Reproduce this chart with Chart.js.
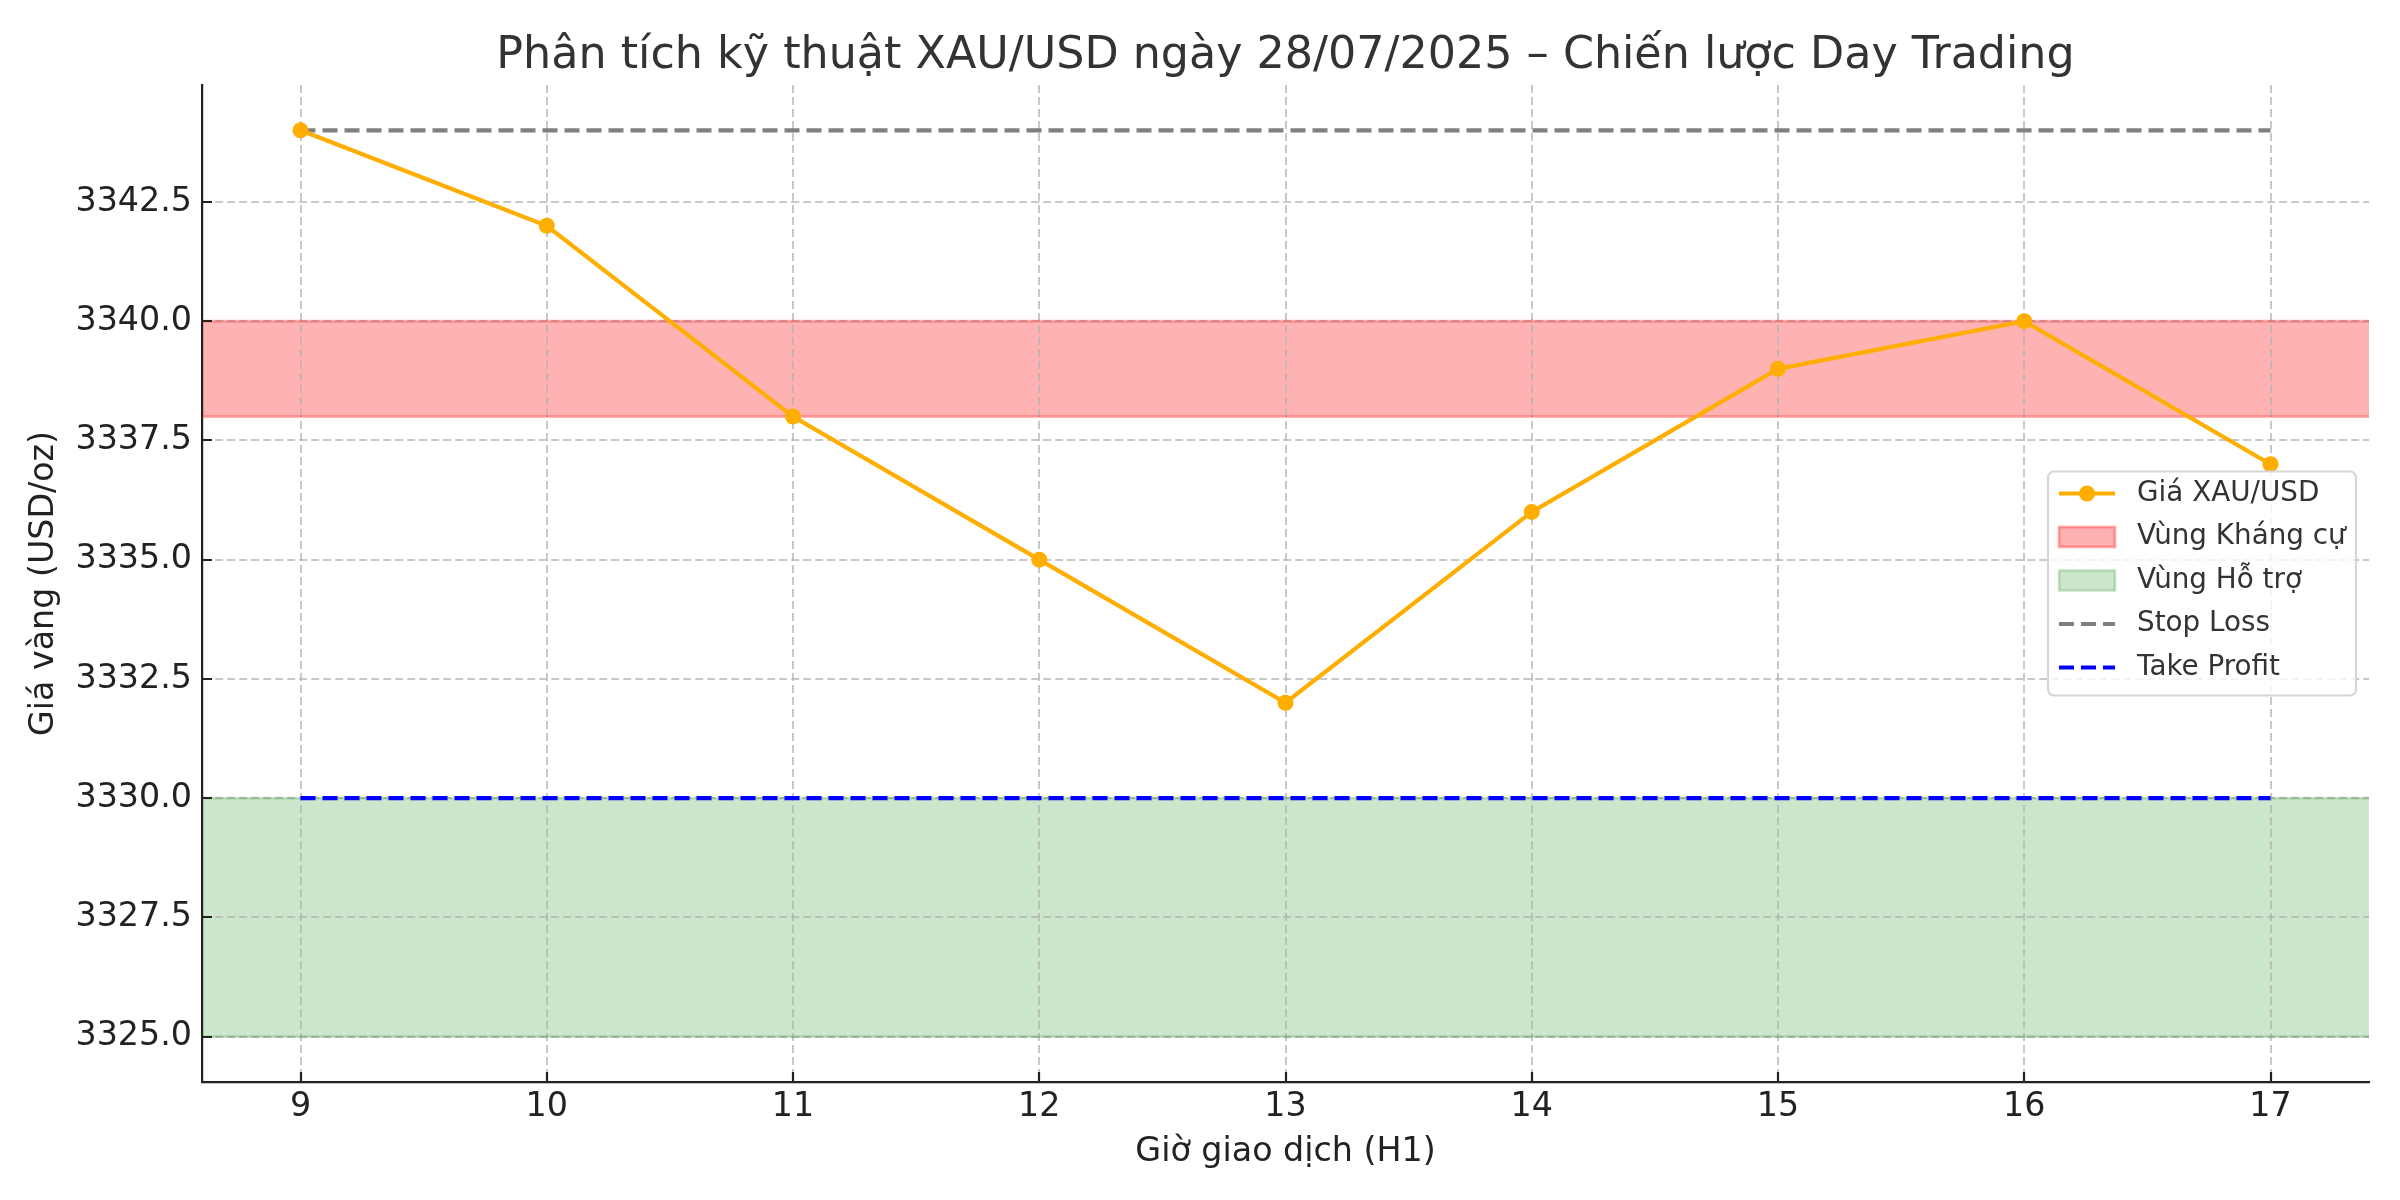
<!DOCTYPE html>
<html>
<head>
<meta charset="utf-8">
<script src="https://cdn.jsdelivr.net/npm/chart.js@4"></script>
<style>
  html, body { margin: 0; padding: 0; background: #fff; }
  canvas { display: block; }
</style>
</head>
<body>
<canvas id="chart" width="2400" height="1200"></canvas>
<script>
// --- Données ---
const hours = [9, 10, 11, 12, 13, 14, 15, 16, 17];
const prices = [3344, 3342, 3338, 3335, 3332, 3336, 3339, 3340, 3337];
const resistanceZone = [3338, 3340];
const supportZone = [3325, 3330];
const stopLoss = 3344;
const takeProfit = 3330;
const xRange = [8.6, 17.4];
const yRange = [3324.05, 3344.95];
const xTicks = [9, 10, 11, 12, 13, 14, 15, 16, 17];
const yTicks = [3325, 3327.5, 3330, 3332.5, 3335, 3337.5, 3340, 3342.5];

const titleText = 'Phân tích kỹ thuật XAU/USD ngày 28/07/2025 – Chiến lược Day Trading';
const xTitle = 'Giờ giao dịch (H1)';
const yTitle = 'Giá vàng (USD/oz)';
const FONT = '"DejaVu Sans", sans-serif';

const ORANGE = '#FFAE00';
const RED_FACE = 'rgba(255,0,0,0.3)';
const GREEN_FACE = 'rgba(0,128,0,0.2)';

function hline(y, x0, x1) {
  return [{ x: x0, y: y }, { x: x1, y: y }];
}

// --- Titre, graduations vers l'intérieur et légende (style matplotlib) ---
const mplPlugin = {
  id: 'mplExtras',
  afterDatasetsDraw(chart) {
    const ctx = chart.ctx;
    const area = chart.chartArea;
    const xs = chart.scales.x, ys = chart.scales.y;

    // petites graduations tournées vers l'intérieur
    ctx.save();
    ctx.strokeStyle = '#222';
    ctx.lineWidth = 2.2;
    ctx.beginPath();
    xTicks.forEach(v => {
      const px = Math.round(xs.getPixelForValue(v));
      ctx.moveTo(px, area.bottom);
      ctx.lineTo(px, area.bottom - 10);
    });
    yTicks.forEach(v => {
      const py = Math.round(ys.getPixelForValue(v));
      ctx.moveTo(area.left, py);
      ctx.lineTo(area.left + 10, py);
    });
    ctx.stroke();
    ctx.restore();

    // légende "center right"
    const items = [
      { type: 'line', label: 'Giá XAU/USD', color: ORANGE, marker: true },
      { type: 'patch', label: 'Vùng Kháng cự', face: RED_FACE, edge: 'rgba(255,0,0,0.3)' },
      { type: 'patch', label: 'Vùng Hỗ trợ', face: GREEN_FACE, edge: 'rgba(0,128,0,0.2)' },
      { type: 'line', label: 'Stop Loss', color: 'gray', dash: [15, 7] },
      { type: 'line', label: 'Take Profit', color: 'blue', dash: [15, 7] }
    ];
    const w = 308, h = 224;
    const x0 = area.right - 13 - w;
    const y0 = (area.top + area.bottom) / 2 - h / 2;
    ctx.save();
    ctx.beginPath();
    ctx.roundRect(x0, y0, w, h, 6);
    ctx.fillStyle = 'rgba(255,255,255,0.8)';
    ctx.fill();
    ctx.lineWidth = 2.2;
    ctx.strokeStyle = '#d6d6d6';
    ctx.stroke();

    ctx.font = '27.8px ' + FONT;
    ctx.textBaseline = 'middle';
    items.forEach((it, i) => {
      const cy = y0 + 22 + i * 43.5;
      const hx0 = x0 + 11, hx1 = x0 + 67;
      if (it.type === 'line') {
        ctx.beginPath();
        ctx.setLineDash(it.dash || []);
        ctx.strokeStyle = it.color;
        ctx.lineWidth = 4.2;
        ctx.moveTo(hx0, cy);
        ctx.lineTo(hx1, cy);
        ctx.stroke();
        ctx.setLineDash([]);
        if (it.marker) {
          ctx.beginPath();
          ctx.fillStyle = it.color;
          ctx.arc((hx0 + hx1) / 2, cy, 8, 0, Math.PI * 2);
          ctx.fill();
        }
      } else {
        ctx.fillStyle = '#fff';
        ctx.fillRect(hx0, cy - 10, hx1 - hx0, 20);
        ctx.fillStyle = it.face;
        ctx.fillRect(hx0, cy - 10, hx1 - hx0, 20);
        ctx.strokeStyle = it.edge;
        ctx.lineWidth = 2.8;
        ctx.strokeRect(hx0, cy - 10, hx1 - hx0, 20);
      }
      ctx.fillStyle = '#333';
      ctx.fillText(it.label, x0 + 89, cy);
    });
    ctx.restore();
  },
  afterDraw(chart) {
    const ctx = chart.ctx;
    const area = chart.chartArea;
    ctx.save();
    ctx.font = '44.4px ' + FONT;
    ctx.fillStyle = '#333';
    ctx.textAlign = 'center';
    ctx.textBaseline = 'alphabetic';
    ctx.fillText(titleText, (area.left + area.right) / 2, area.top - 17);
    ctx.restore();
  }
};

const gridCommon = {
  color: 'rgba(176,176,176,0.7)',
  lineWidth: 2,
  drawTicks: false
};

new Chart(document.getElementById('chart'), {
  type: 'line',
  data: {
    datasets: [
      {
        label: 'Giá XAU/USD',
        data: hours.map((h, i) => ({ x: h, y: prices[i] })),
        borderColor: ORANGE,
        backgroundColor: ORANGE,
        borderWidth: 4.2,
        pointRadius: 8,
        pointHoverRadius: 8,
        pointBackgroundColor: ORANGE,
        pointBorderWidth: 0,
        tension: 0
      },
      {
        label: 'Stop Loss',
        data: hline(stopLoss, hours[0], hours[hours.length - 1]),
        borderColor: 'gray',
        borderWidth: 4.2,
        borderDash: [15, 7],
        pointRadius: 0
      },
      {
        label: 'Take Profit',
        data: hline(takeProfit, hours[0], hours[hours.length - 1]),
        borderColor: 'blue',
        borderWidth: 4.2,
        borderDash: [15, 7],
        pointRadius: 0
      },
      {
        label: 'Vùng Kháng cự',
        data: hline(resistanceZone[1], xRange[0], xRange[1]),
        borderColor: 'rgba(255,0,0,0.3)',
        borderWidth: 2.8,
        backgroundColor: RED_FACE,
        fill: '+1',
        pointRadius: 0
      },
      {
        label: 'kc_low',
        data: hline(resistanceZone[0], xRange[0], xRange[1]),
        borderColor: 'rgba(255,0,0,0.3)',
        borderWidth: 2.8,
        pointRadius: 0
      },
      {
        label: 'Vùng Hỗ trợ',
        data: hline(supportZone[1], xRange[0], xRange[1]),
        borderColor: 'rgba(0,128,0,0.2)',
        borderWidth: 2.8,
        backgroundColor: GREEN_FACE,
        fill: '+1',
        pointRadius: 0
      },
      {
        label: 'ht_low',
        data: hline(supportZone[0], xRange[0], xRange[1]),
        borderColor: 'rgba(0,128,0,0.2)',
        borderWidth: 2.8,
        pointRadius: 0
      }
    ]
  },
  options: {
    responsive: false,
    devicePixelRatio: 1,
    animation: false,
    layout: { padding: { top: 85, right: 31, bottom: 0, left: 0 } },
    plugins: {
      legend: { display: false },
      title: { display: false },
      tooltip: { enabled: false },
      filler: { drawTime: 'beforeDraw' }
    },
    scales: {
      x: {
        type: 'linear',
        min: xRange[0],
        max: xRange[1],
        afterBuildTicks: s => { s.ticks = xTicks.map(v => ({ value: v })); },
        afterFit: s => { s.height = 118; },
        grid: gridCommon,
        border: { color: '#222', width: 2.2, dash: [8, 4] },
        ticks: {
          color: '#222',
          font: { family: FONT, size: 33.3 },
          padding: 5,
          callback: v => String(v)
        },
        title: {
          display: true,
          text: xTitle,
          color: '#222',
          font: { family: FONT, size: 33.3 },
          padding: { top: 0, bottom: 28 }
        }
      },
      y: {
        min: yRange[0],
        max: yRange[1],
        afterBuildTicks: s => { s.ticks = yTicks.map(v => ({ value: v })); },
        afterFit: s => { s.width = 202; },
        grid: gridCommon,
        border: { color: '#222', width: 2.2, dash: [8, 4] },
        ticks: {
          color: '#222',
          font: { family: FONT, size: 33.3 },
          padding: 10,
          callback: v => v.toFixed(1)
        },
        title: {
          display: true,
          text: yTitle,
          color: '#222',
          font: { family: FONT, size: 33.3 },
          padding: { top: 24, bottom: 0 }
        }
      }
    }
  },
  plugins: [mplPlugin]
});
</script>
</body>
</html>
